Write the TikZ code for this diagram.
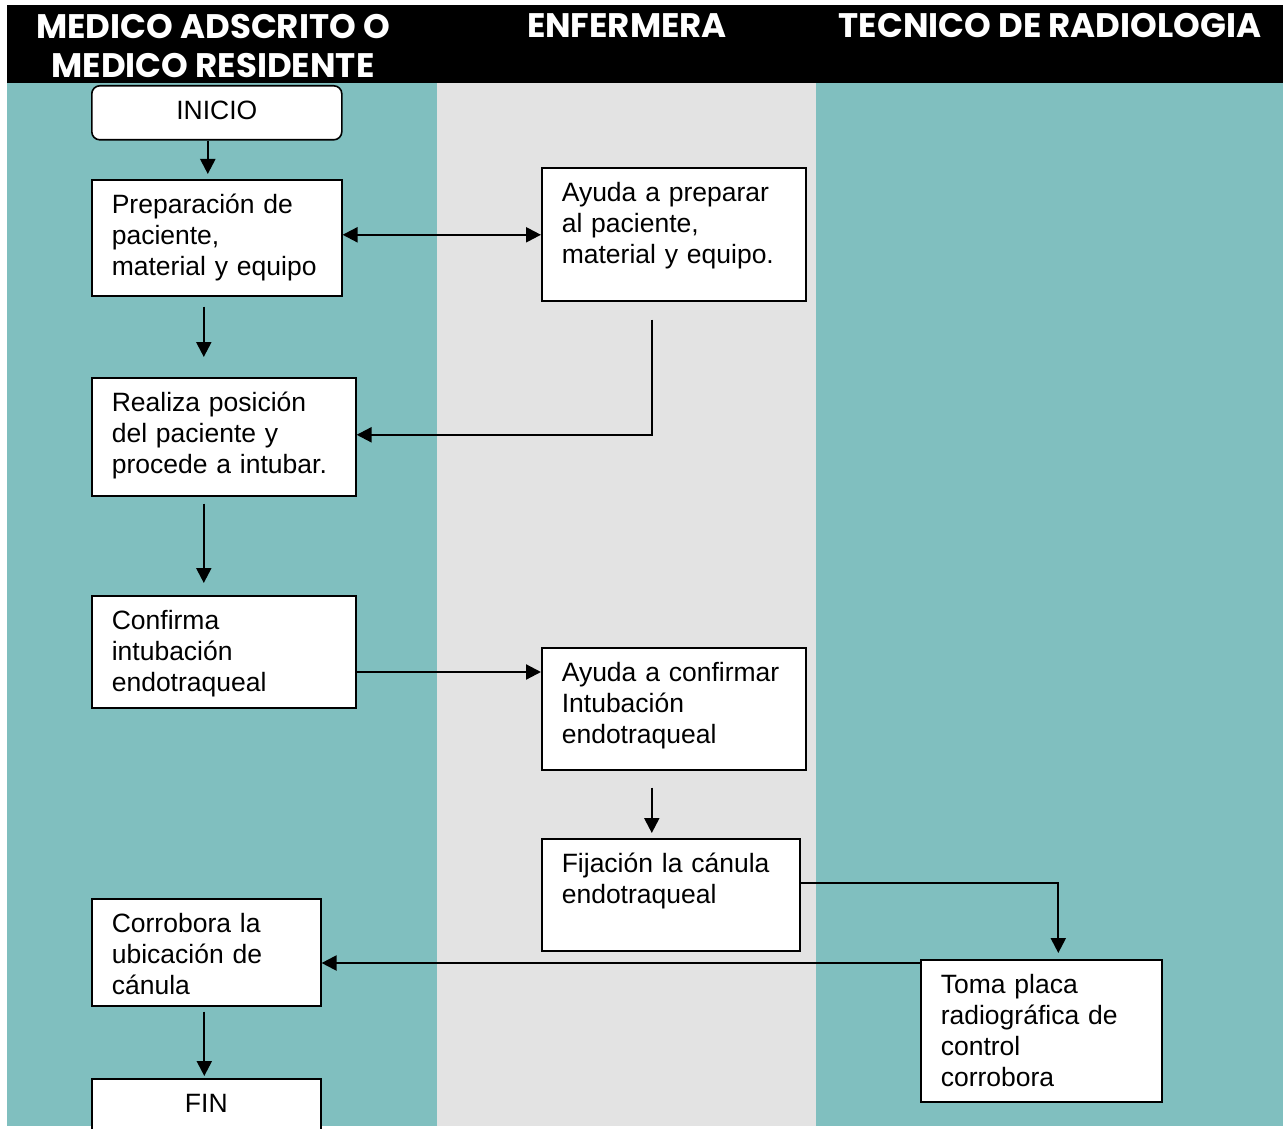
\documentclass[tikz,border=0pt]{standalone}
\usepackage{fontspec}
\setmainfont{Liberation Sans}
\newfontfamily\headfont{Poppins}
\usetikzlibrary{arrows.meta}

\definecolor{lanegreen}{RGB}{128,191,191}
\definecolor{lanegrey}{RGB}{227,227,227}

\tikzset{
  stepbox/.style = {draw, fill = white, line width = 1.6pt, anchor = north west,
    align = left, inner xsep = 20pt, inner ysep = 0pt, text height = 34pt,
    font = \fontsize{26.5}{31}\selectfont},
  tip/.tip = {Triangle[length = 15pt, width = 15pt]},
  flow/.style = {line width = 2.2pt, -tip},
  lanehead/.style = {text = white, font = \headfont\bfseries\fontsize{34}{39}\selectfont,
    align = center, inner sep = 0pt}
}

\begin{document}
\begin{tikzpicture}[x = 1pt, y = -1pt]
  \useasboundingbox (0, 0) rectangle (1283, 1129);
  \clip (0, 0) rectangle (1283, 1129);

  \fill[black] (7, 5) rectangle (1283, 83);
  \fill[lanegreen] (7, 83) rectangle (437, 1126);
  \fill[lanegrey] (437, 83) rectangle (816, 1126);
  \fill[lanegreen] (816, 83) rectangle (1283, 1126);

  \node[lanehead] (hmed) at (213, 46) {MEDICO ADSCRITO O\\MEDICO RESIDENTE};
  \node[lanehead] (henf) at (627, 26) {ENFERMERA};
  \node[lanehead] (hrad) at (1050, 26) {TECNICO DE RADIOLOGIA};

  \node[stepbox, rounded corners = 8pt, align = center, text width = 210pt,
  text depth = 20pt] (inicio) at (91, 85) {INICIO};
  \node[stepbox, text width = 210pt, text depth = 82pt] (prep) at (91, 179)
  {Preparación de\\paciente,\\material y equipo};
  \node[stepbox, text width = 224pt, text depth = 99pt] (ayuda1) at (541, 167)
  {Ayuda a preparar\\al paciente,\\material y equipo.};
  \node[stepbox, text width = 224pt, text depth = 84pt] (posic) at (91, 377)
  {Realiza posición\\del paciente y\\procede a intubar.};
  \node[stepbox, text width = 224pt, text depth = 78pt] (confirma) at (91, 595)
  {Confirma\\intubación\\endotraqueal};
  \node[stepbox, text width = 224pt, text depth = 88pt] (ayuda2) at (541, 647)
  {Ayuda a confirmar\\Intubación\\endotraqueal};
  \node[stepbox, text width = 218pt, text depth = 78pt] (fija) at (541, 838)
  {Fijación la cánula\\endotraqueal};
  \node[stepbox, text width = 189pt, text depth = 73pt] (corrobora) at (91, 898)
  {Corrobora la\\ubicación de\\cánula};
  \node[stepbox, text width = 201pt, text depth = 108pt] (placa) at (920, 959)
  {Toma placa\\radiográfica de\\control\\corrobora};
  \node[stepbox, align = center, text width = 189pt, text depth = 40pt] (fin)
  at (91, 1078) {FIN};

  \draw[flow] ([xshift = -9pt] inicio.south) -- ([xshift = -9pt, yshift = 5pt] prep.north);
  \coordinate (prep-out) at ([yshift = 3pt] prep.east);
  \draw[flow, tip-tip] (prep-out) -- (prep-out -| ayuda1.west);
  \draw[flow] ([xshift = -13pt, yshift = -10pt] prep.south)
  -- ([xshift = -20pt, yshift = 20pt] posic.north);
  \draw[flow] ([xshift = -22pt, yshift = -18pt] ayuda1.south) |- ([yshift = 2pt] posic.east);
  \draw[flow] ([xshift = -20pt, yshift = -7pt] posic.south)
  -- ([xshift = -20pt, yshift = 12pt] confirma.north);

  \coordinate (conf-in) at ([yshift = -25pt] ayuda2.north west);
  \draw[flow] (confirma.east |- conf-in) -- (conf-in);
  \coordinate (ayuda2-out) at ([xshift = -22pt, yshift = -17pt] ayuda2.south);
  \draw[flow] (ayuda2-out) -- ([yshift = 5pt] ayuda2-out |- fija.north);

  \coordinate (fija-out) at ([yshift = 12pt] fija.east);
  \draw[flow] (fija-out) -| ([xshift = 17pt, yshift = 6pt] placa.north);

  \coordinate (placa-out) at ([yshift = -4pt] placa.north west);
  \draw[flow] (placa-out) -- (corrobora.east |- placa-out);
  \draw[flow] ([xshift = -2pt, yshift = -5pt] corrobora.south)
  -- ([xshift = -2pt, yshift = 2pt] fin.north);
\end{tikzpicture}
\end{document}
